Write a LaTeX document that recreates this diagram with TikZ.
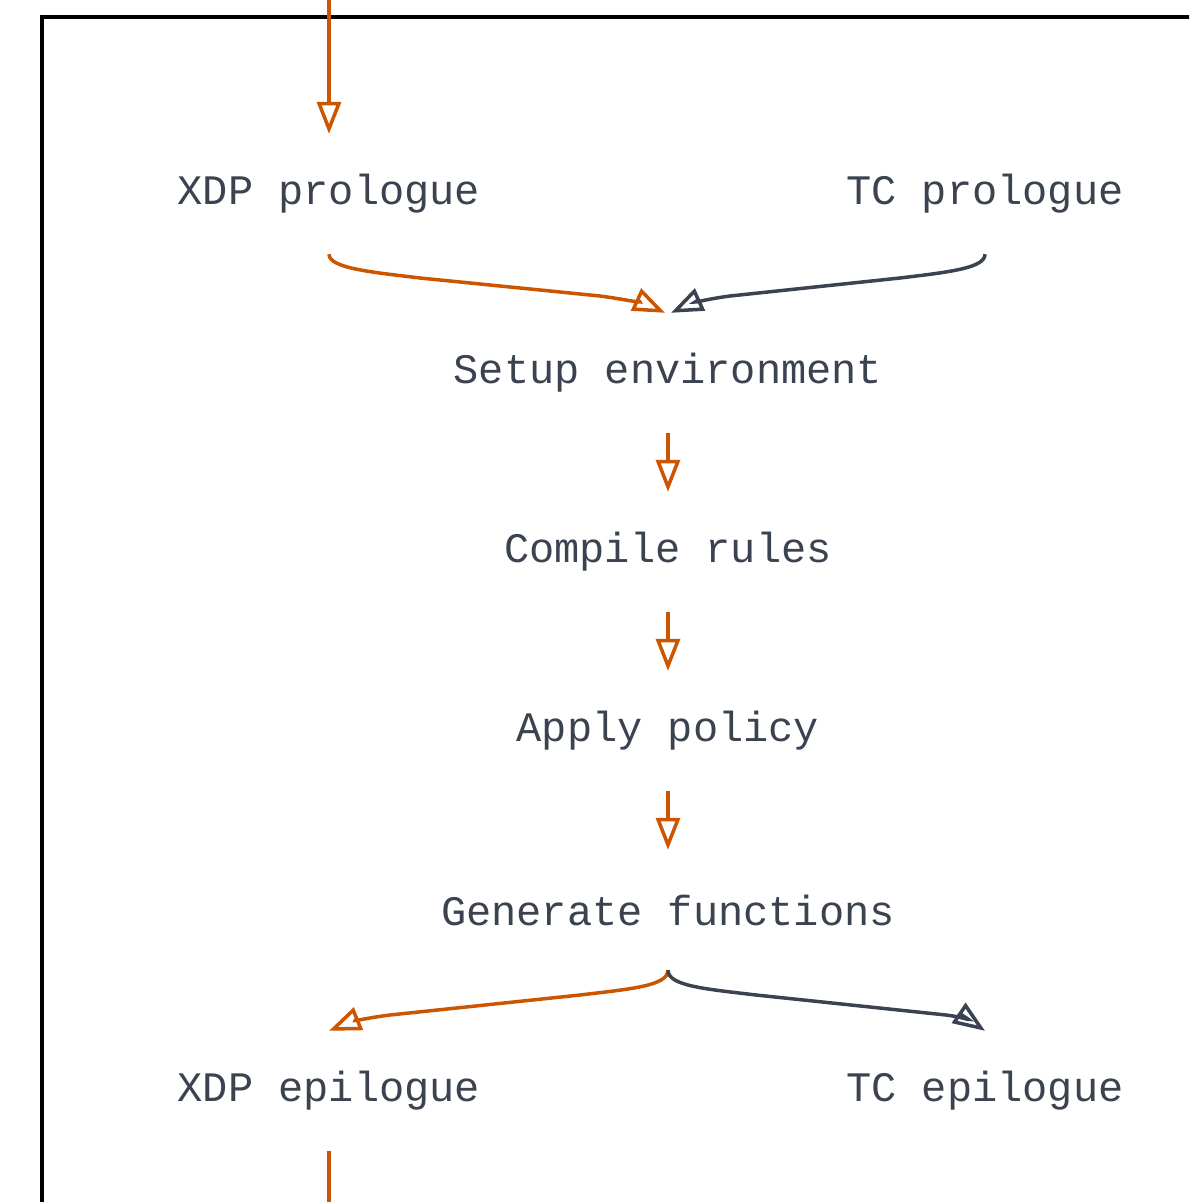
\documentclass[tikz,border=0pt]{standalone}
\usepackage{fontspec}
\setmonofont{Liberation Mono}
\usetikzlibrary{arrows.meta,calc}
\definecolor{orangeline}{HTML}{CC5500}
\definecolor{grayline}{HTML}{3B4350}
\definecolor{textcol}{HTML}{3B4350}
\tikzset{
  lbl/.style={inner sep=0pt, minimum height=120pt, text=textcol,
    font=\ttfamily\fontsize{42pt}{50pt}\selectfont},
  otip/.style={-{Triangle[open,length=32pt,width=24pt,line width=3.5pt]}},
  oarrow/.style={otip, draw=orangeline, line width=3.5pt},
  garrow/.style={otip, draw=grayline, line width=3.5pt},
  frame/.style={draw=black, line width=3.5pt}
}
\begin{document}
\begin{tikzpicture}[x=1pt,y=-1pt]
\clip (0,0) rectangle (1189,1202);
\fill[white] (0,0) rectangle (1189,1202);
\draw[frame] (1200,17) -- (42,17) -- (42,1215);

\node[lbl] (xdpp) at (329,194) {XDP prologue};
\node[lbl] (tcp) at (985,194) {TC prologue};
\node[lbl] (setup) at (668,373) {Setup environment};
\node[lbl] (compile) at (668,552) {Compile rules};
\node[lbl] (apply) at (668,731) {Apply policy};
\node[lbl] (gen) at (668,910) {Generate functions};
\node[lbl] (xdpe) at (329,1091) {XDP epilogue};
\node[lbl] (tce) at (985,1091) {TC epilogue};

\coordinate (intop) at (329,-5);
\coordinate (outbot) at (329,1210);

\draw[oarrow] (intop) -- (xdpp.north);
\draw[oarrow] (xdpp.south) .. controls (329,268) and (370,272) .. (420,278)
   -- (600,296) .. controls (630,300) and (648,305) .. ([xshift=-3pt]setup.north);
\draw[garrow] (tcp.south) .. controls (985,268) and (950,272) .. (900,278)
   -- (730,296) .. controls (700,300) and (688,305) .. ([xshift=3pt]setup.north);
\draw[oarrow] (setup.south) -- (compile.north);
\draw[oarrow] (compile.south) -- (apply.north);
\draw[oarrow] (apply.south) -- (gen.north);
\draw[oarrow] (gen.south) .. controls (668,986) and (630,989) .. (580,995)
   -- (390,1015) .. controls (365,1018) and (348,1023) .. (xdpe.north);
\draw[garrow] (gen.south) .. controls (668,986) and (706,989) .. (756,995)
   -- (946,1015) .. controls (970,1018) and (975,1024) .. (tce.north);
\draw[orangeline, line width=3.5pt] (xdpe.south) -- (outbot);
\end{tikzpicture}
\end{document}
